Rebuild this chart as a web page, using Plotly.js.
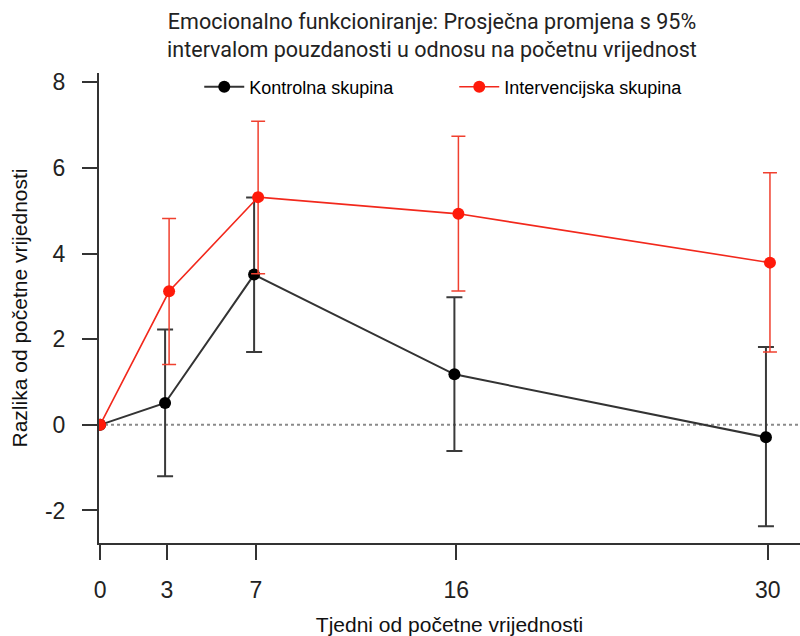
<!DOCTYPE html>
<html>
<head>
<meta charset="utf-8">
<script src="https://cdn.plot.ly/plotly-3.0.1.min.js"></script>
<style>html,body{margin:0;padding:0;background:#fff;} #chart{width:800px;height:636px;}</style>
</head>
<body>
<div id="chart"></div>
<script>
// ---- data ----
const weeks = [0, 3, 7, 16, 30];
const tickLabels = ["0", "3", "7", "16", "30"];
const yTickValues = [-2, 0, 2, 4, 6, 8];
const yTickLabels = ["-2", "0", "2", "4", "6", "8"];
const kontrolna = [0, 0.51, 3.51, 1.18, -0.29];
const kontrolnaUpper = [null, 2.23, 5.31, 2.98, 1.82];
const kontrolnaLower = [null, -1.20, 1.70, -0.61, -2.37];
const intervencijska = [0, 3.12, 5.32, 4.93, 3.79];
const intervencijskaUpper = [null, 4.82, 7.09, 6.74, 5.89];
const intervencijskaLower = [null, 1.41, 3.53, 3.13, 1.70];
const seriesNames = ["Kontrolna skupina", "Intervencijska skupina"];

// small horizontal dodge so the two groups do not overlap
function dodge(xs, d) { return xs.map(x => x === 0 ? x : x + d); }
function plus(up, mean) { return up.map((u, i) => u === null ? NaN : u - mean[i]); }
function minus(lo, mean) { return lo.map((l, i) => l === null ? NaN : mean[i] - l); }

const blackCol = '#333333';
const redCol = '#f2281c';

const traces = [
  {
    x: dodge(weeks, -0.08), y: kontrolna, name: seriesNames[0],
    type: 'scatter', mode: 'lines+markers',
    line: {color: blackCol, width: 2},
    marker: {color: '#000', size: 12},
    error_y: {type: 'data', symmetric: false,
      array: plus(kontrolnaUpper, kontrolna), arrayminus: minus(kontrolnaLower, kontrolna),
      color: '#3a3a3a', thickness: 2, width: 8}
  },
  {
    x: dodge(weeks, 0.1), y: intervencijska, name: seriesNames[1],
    type: 'scatter', mode: 'lines+markers',
    line: {color: redCol, width: 1.6},
    marker: {color: '#ff1a0a', size: 12},
    error_y: {type: 'data', symmetric: false,
      array: plus(intervencijskaUpper, intervencijska), arrayminus: minus(intervencijskaLower, intervencijska),
      color: '#f0402f', thickness: 1.5, width: 7}
  }
];

const layout = {
  width: 800, height: 636,
  margin: {l: 99, r: 0, t: 73, b: 93},
  paper_bgcolor: '#fff', plot_bgcolor: '#fff',
  showlegend: true,
  title: {
    text: 'Emocionalno funkcioniranje: Prosječna promjena s 95%<br>intervalom pouzdanosti u odnosu na početnu vrijednost',
    font: {family: 'Roboto, Arial, sans-serif', size: 21.5, color: '#222'},
    xref: 'container', x: 0.54, xanchor: 'center',
    yref: 'container', y: 0.955, yanchor: 'top'
  },
  legend: {
    orientation: 'h', x: 0.143, xanchor: 'left', y: 0.97, yanchor: 'middle',
    font: {family: 'Liberation Sans, Arial, sans-serif', size: 18, color: '#000'},
    entrywidth: 200, entrywidthmode: 'pixels',
    bgcolor: 'rgba(0,0,0,0)', itemwidth: 40
  },
  xaxis: {
    range: [-0.05, 31.45],
    tickmode: 'array', tickvals: weeks, ticktext: tickLabels,
    showgrid: false, zeroline: false,
    showline: true, linecolor: '#333', linewidth: 2,
    ticks: 'outside', ticklen: 15, tickwidth: 2, tickcolor: '#333',
    ticklabelstandoff: 10,
    tickfont: {family: 'Liberation Sans, Arial, sans-serif', size: 23, color: '#222'},
    title: {text: 'Tjedni od početne vrijednosti', standoff: 19,
      font: {family: 'Liberation Sans, Arial, sans-serif', size: 21, color: '#111'}}
  },
  yaxis: {
    range: [-2.76, 8.22],
    tickmode: 'array', tickvals: yTickValues, ticktext: yTickLabels,
    showgrid: false, zeroline: false,
    showline: true, linecolor: '#333', linewidth: 2,
    ticks: 'outside', ticklen: 15, tickwidth: 2, tickcolor: '#333',
    ticklabelstandoff: 12,
    tickfont: {family: 'Liberation Sans, Arial, sans-serif', size: 23, color: '#222'},
    title: {text: 'Razlika od početne vrijednosti', standoff: 12,
      font: {family: 'Liberation Sans, Arial, sans-serif', size: 21, color: '#111'}}
  },
  shapes: [{
    type: 'line', xref: 'paper', x0: 0, x1: 1, yref: 'y', y0: 0, y1: 0,
    line: {color: '#8a8a8a', width: 2, dash: 'dot'}, layer: 'below'
  }]
};

Plotly.newPlot('chart', traces, layout, {displayModeBar: false, staticPlot: true});
</script>
</body>
</html>
